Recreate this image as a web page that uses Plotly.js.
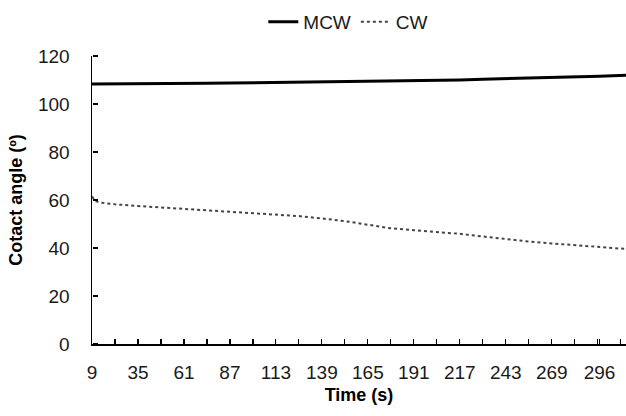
<!DOCTYPE html>
<html>
<head>
<meta charset="utf-8">
<script src="https://cdn.plot.ly/plotly-3.0.1.min.js"></script>
<style>html,body{margin:0;padding:0;background:#fff}#chart{width:626px;height:416px}</style>
</head>
<body>
<div id="chart"></div>
<script>
// Time (s)
var time = [9, 11, 15, 22, 35, 48, 61, 74, 87, 100, 113, 126, 139, 152, 165, 178, 191, 204, 217, 230, 243, 256, 269, 282, 296, 311];
// Contact angle of MCW (deg)
var mcw = [108.3, 108.3, 108.4, 108.4, 108.4, 108.5, 108.5, 108.6, 108.7, 108.8, 108.9, 109.0, 109.1, 109.3, 109.4, 109.6, 109.7, 109.9, 110.0, 110.3, 110.5, 110.8, 111.0, 111.3, 111.6, 112.0];
// Contact angle of CW (deg)
var cw = [61.5, 59.5, 58.8, 58.2, 57.5, 56.9, 56.4, 55.9, 55.4, 54.8, 54.1, 53.3, 52.3, 51.2, 49.7, 48.2, 47.4, 46.7, 45.9, 44.8, 43.7, 42.7, 41.9, 41.2, 40.4, 39.6];
// Category tick labels
var tickLabels = ["9", "35", "61", "87", "113", "139", "165", "191", "217", "243", "269", "296"];
var tickPos = tickLabels.map(Number);

var fam = "Liberation Sans, Arial, sans-serif";
var font = {family: fam, size: 19, color: "#1a1a1a"};
var titleFont = {family: fam, size: 18, color: "#000"};

var traces = [
  {x: time, y: mcw, name: "MCW", mode: "lines", line: {color: "#000", width: 3}},
  {x: time, y: cw, name: "CW", mode: "lines", line: {color: "#444", width: 2, dash: "dot"}},
  {x: time, y: cw, yaxis: "y2", showlegend: false, hoverinfo: "skip", mode: "lines", line: {width: 0, color: "rgba(0,0,0,0)"}}
];

var layout = {
  width: 626, height: 416,
  margin: {l: 92, r: 0, t: 56, b: 72},
  paper_bgcolor: "#fff", plot_bgcolor: "#fff",
  font: font,
  showlegend: true,
  legend: {orientation: "h", x: 0.48, xanchor: "center", y: 1.118, yanchor: "middle",
           font: font, itemwidth: 30, tracegroupgap: 0},
  xaxis: {
    range: [9, 311], showgrid: false, zeroline: false,
    showline: true, linecolor: "#000000", linewidth: 1.5,
    tickmode: "array", tickvals: tickPos, ticktext: tickLabels,
    ticks: "inside", ticklen: 5, tickwidth: 1.2, tickcolor: "#000000",
    minor: {tick0: 9, dtick: 13, ticks: "inside", ticklen: 5, tickwidth: 1.2, tickcolor: "#000000", showgrid: false},
    ticklabelstandoff: 11,
    tickfont: font,
    layer: "above traces",
    title: {text: "<b>Time (s)</b>", font: titleFont, standoff: 6}
  },
  yaxis: {
    range: [0, 120], dtick: 20, showgrid: false, zeroline: false,
    showline: true, linecolor: "#000000", linewidth: 1.5,
    ticks: "", 
    ticklabelstandoff: 17,
    tickfont: font,
    layer: "above traces",
    title: {text: "<b>Cotact angle (º)</b>", font: titleFont, standoff: 10}
  },
  yaxis2: {
    overlaying: "y", anchor: "free", position: 0, side: "right",
    range: [0, 120], dtick: 20, showgrid: false, zeroline: false,
    showline: false, showticklabels: false,
    ticks: "outside", ticklen: 5, tickwidth: 1.2, tickcolor: "#000000"
  }
};

Plotly.newPlot("chart", traces, layout, {displayModeBar: false, staticPlot: true});
</script>
</body>
</html>
